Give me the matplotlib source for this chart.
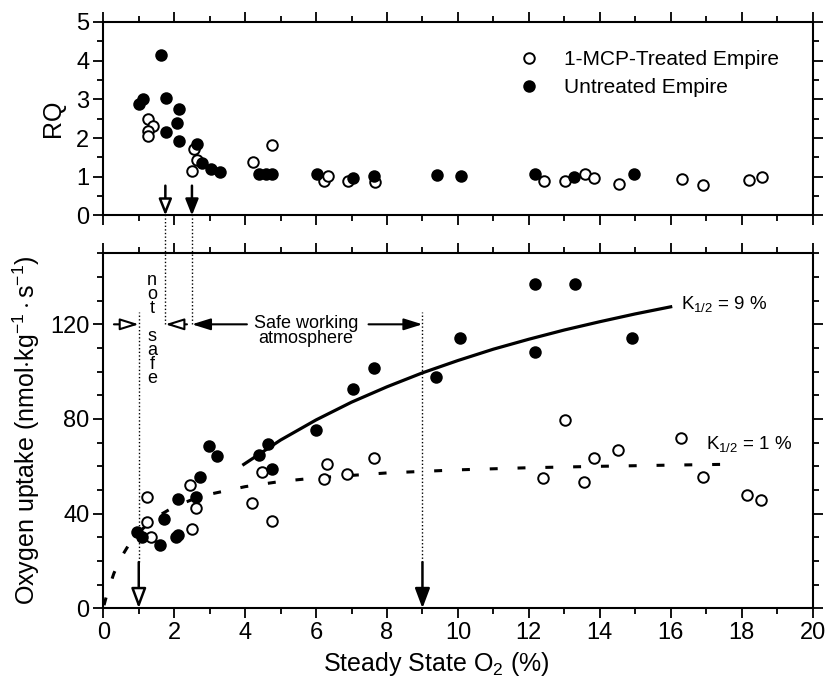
import matplotlib
matplotlib.use("Agg")
import matplotlib.pyplot as plt
from matplotlib.lines import Line2D
from matplotlib.ticker import MultipleLocator

plt.rcParams['font.family'] = ['Liberation Sans', 'DejaVu Sans']
plt.rcParams['mathtext.fontset'] = 'custom'
plt.rcParams['mathtext.rm'] = 'Liberation Sans'
plt.rcParams['mathtext.it'] = 'Liberation Sans:italic'
plt.rcParams['mathtext.bf'] = 'Liberation Sans:bold'

# ---------------- data ----------------
# RQ, untreated (filled)
rq_untreated_x = [1.00, 1.12, 1.64, 1.78, 1.78, 2.07, 2.14, 2.14, 2.64, 2.78, 3.04, 3.30,
                  4.40, 4.58, 4.76, 6.03, 7.03, 7.62, 9.41, 10.09, 12.16, 13.27, 14.96]
rq_untreated_y = [2.89, 3.00, 4.14, 3.03, 2.15, 2.39, 2.74, 1.93, 1.85, 1.35, 1.20, 1.13,
                  1.07, 1.07, 1.07, 1.06, 0.97, 1.03, 1.05, 1.01, 1.07, 0.99, 1.06]
# RQ, 1-MCP treated (open)
rq_treated_x = [1.26, 1.40, 1.25, 1.25, 2.55, 2.64, 2.50, 4.21, 4.76, 6.21, 6.33, 6.90, 7.65,
                12.42, 13.03, 13.57, 13.85, 14.54, 16.31, 16.92, 18.20, 18.58]
rq_treated_y = [2.49, 2.32, 2.19, 2.06, 1.72, 1.42, 1.16, 1.37, 1.83, 0.90, 1.01, 0.89, 0.86,
                0.88, 0.90, 1.07, 0.97, 0.82, 0.94, 0.79, 0.92, 0.99]

# O2 uptake, untreated (filled)
up_untreated_x = [0.94, 1.08, 1.60, 1.72, 2.05, 2.12, 2.12, 2.61, 2.73, 2.99, 3.22, 4.38, 4.65,
                  4.76, 6.01, 7.03, 7.62, 9.37, 10.07, 12.16, 12.16, 13.29, 14.91]
up_untreated_y = [32.4, 30.3, 26.7, 37.6, 30.3, 30.8, 46.1, 47.2, 55.3, 68.6, 64.3, 64.8, 69.3,
                  58.8, 75.3, 92.7, 101.5, 97.7, 114.4, 137.2, 108.2, 137.2, 114.4]
# O2 uptake, 1-MCP treated (open)
up_treated_x = [1.22, 1.22, 1.34, 2.45, 2.61, 2.49, 4.19, 4.48, 4.76, 6.21, 6.31, 6.87, 7.62,
                12.40, 13.01, 13.55, 13.83, 14.52, 16.28, 16.92, 18.16, 18.55]
up_treated_y = [47.2, 36.6, 30.3, 52.1, 42.3, 33.4, 44.5, 57.8, 36.7, 54.6, 60.9, 56.7, 63.7,
                54.9, 79.4, 53.2, 63.3, 66.8, 71.8, 55.3, 48.0, 45.8]

# fitted curves
fit9_x = [3.96, 5, 6, 7, 8, 9, 10, 11, 12, 13, 14, 15, 16]
fit9_y = [60.8, 71.1, 79.6, 87.1, 93.6, 99.5, 104.7, 109.5, 113.7, 117.6, 121.1, 124.4, 127.4]
fit1_x = [0.02, 0.12, 0.3, 0.5, 0.75, 1, 1.5, 2, 2.5, 3, 4, 5, 6, 8, 10, 12, 14, 16, 17.85]
fit1_y = [1.3, 6.9, 14.8, 21.4, 27.6, 32.2, 38.6, 42.9, 45.9, 48.2, 51.4, 53.6, 55.1, 57.2,
          58.5, 59.4, 60.0, 60.5, 60.9]

x_ticks = [0, 2, 4, 6, 8, 10, 12, 14, 16, 18, 20]
rq_ticks = [0, 1, 2, 3, 4, 5]
up_ticks = [0, 40, 80, 120]

legend_labels = ['1-MCP-Treated Empire', 'Untreated Empire']

# ---------------- figure ----------------
fig = plt.figure(figsize=(8.27, 6.77), dpi=100)
ax1 = fig.add_axes([0.1249, 0.6817, 0.8576, 0.2861])
ax2 = fig.add_axes([0.1249, 0.1015, 0.8576, 0.5243])

ms = 7.6
mew = 1.4
tick_fs = 17
label_fs = 18

def style(ax):
    for s in ax.spines.values():
        s.set_linewidth(1.5)
    ax.tick_params(which='both', direction='out', top=True, right=True, width=1.3)
    ax.tick_params(which='major', length=7)
    ax.tick_params(which='minor', length=4)
    ax.tick_params(labelsize=tick_fs, pad=3)
    ax.xaxis.set_minor_locator(MultipleLocator(1))

# top panel
ax1.plot(rq_treated_x, rq_treated_y, 'o', ms=ms, mfc='white', mec='black', mew=mew, ls='none', zorder=3)
ax1.plot(rq_untreated_x, rq_untreated_y, 'o', ms=ms, mfc='black', mec='black', mew=mew, ls='none', zorder=4)
ax1.set_xlim(0, 20)
ax1.set_ylim(0, 5)
ax1.set_xticks(x_ticks)
ax1.set_yticks(rq_ticks)
ax1.yaxis.set_minor_locator(MultipleLocator(0.5))
style(ax1)
ax1.tick_params(labelbottom=False)
ax1.set_ylabel('RQ', fontsize=label_fs, labelpad=8)

handles = [Line2D([], [], marker='o', ls='none', ms=ms, mfc='white', mec='black', mew=mew),
           Line2D([], [], marker='o', ls='none', ms=ms, mfc='black', mec='black', mew=mew)]
ax1.legend(handles, legend_labels, loc='upper left', bbox_to_anchor=(0.585, 0.855),
           frameon=False, fontsize=15, handlelength=1.0, handletextpad=1.2,
           borderpad=0, borderaxespad=0, labelspacing=0.45)

# arrows in top panel
ax1.annotate('', xy=(1.75, 0), xytext=(1.75, 0.77),
             arrowprops=dict(arrowstyle='-|>,head_length=0.7,head_width=0.28', fc='white', ec='black',
                             lw=1.8, shrinkA=0, shrinkB=0, mutation_scale=14))
ax1.annotate('', xy=(2.5, 0), xytext=(2.5, 0.77),
             arrowprops=dict(arrowstyle='-|>,head_length=0.7,head_width=0.28', fc='black', ec='black',
                             lw=1.8, shrinkA=0, shrinkB=0, mutation_scale=14))

# bottom panel
ax2.plot(fit9_x, fit9_y, '-', color='black', lw=2.3, zorder=2)
ax2.plot(fit1_x, fit1_y, color='black', lw=2.2, dashes=(2.6, 6.5), zorder=2)
ax2.plot(up_treated_x, up_treated_y, 'o', ms=ms, mfc='white', mec='black', mew=mew, ls='none', zorder=3)
ax2.plot(up_untreated_x, up_untreated_y, 'o', ms=ms, mfc='black', mec='black', mew=mew, ls='none', zorder=4)
ax2.set_xlim(0, 20)
ax2.set_ylim(0, 150)
ax2.set_xticks(x_ticks)
ax2.set_yticks(up_ticks)
ax2.yaxis.set_minor_locator(MultipleLocator(10))
style(ax2)
ax2.set_xlabel(r'Steady State O$_2$ (%)', fontsize=label_fs, labelpad=4, x=0.47)
ax2.set_ylabel(r'Oxygen uptake (nmol$\cdot$kg$^{-1}\cdot$s$^{-1}$)', fontsize=label_fs, labelpad=6)

dot = dict(color='black', lw=1.0, ls=(0, (1, 1.6)), zorder=1)
# vertical dotted lines
ax2.plot([1, 1], [19.5, 125], **dot)
ax2.plot([9, 9], [19.5, 125], **dot)
ax2.plot([1.75, 1.75], [120, 166], clip_on=False, **dot)
ax2.plot([2.5, 2.5], [120, 166], clip_on=False, **dot)

# vertical arrows bottom
ax2.annotate('', xy=(1, 0), xytext=(1, 19.5),
             arrowprops=dict(arrowstyle='-|>,head_length=0.8,head_width=0.3', fc='white', ec='black',
                             lw=1.8, shrinkA=0, shrinkB=0, mutation_scale=15))
ax2.annotate('', xy=(9, 0), xytext=(9, 19.5),
             arrowprops=dict(arrowstyle='-|>,head_length=0.8,head_width=0.3', fc='black', ec='black',
                             lw=1.8, shrinkA=0, shrinkB=0, mutation_scale=15))

# horizontal arrows
hy = 120
harrow = dict(lw=1.5, shrinkA=0, shrinkB=0, mutation_scale=14)
ax2.annotate('', xy=(1.0, hy), xytext=(0.3, hy),
             arrowprops=dict(arrowstyle='-|>,head_length=0.8,head_width=0.25', fc='white', ec='black', **harrow))
ax2.annotate('', xy=(1.75, hy), xytext=(2.36, hy),
             arrowprops=dict(arrowstyle='-|>,head_length=0.8,head_width=0.25', fc='white', ec='black', **harrow))
ax2.annotate('', xy=(2.5, hy), xytext=(4.05, hy),
             arrowprops=dict(arrowstyle='-|>,head_length=0.8,head_width=0.25', fc='black', ec='black', **harrow))
ax2.annotate('', xy=(9.0, hy), xytext=(7.48, hy),
             arrowprops=dict(arrowstyle='-|>,head_length=0.8,head_width=0.25', fc='black', ec='black', **harrow))

ax2.text(5.72, 117.2, 'Safe working\natmosphere', fontsize=13, ha='center', va='center', linespacing=0.85)

# "not safe" stacked letters (one text)
ax2.text(1.37, 142.0, 'n\no\nt\n\ns\na\nf\ne', fontsize=13, ha='center', va='top',
         multialignment='center', linespacing=0.77)

ax2.text(16.28, 126.5, r'K$_{1/2}$ = 9 %', fontsize=13.5, ha='left', va='baseline')
ax2.text(17.0, 67.2, r'K$_{1/2}$ = 1 %', fontsize=13.5, ha='left', va='baseline')

fig.savefig('out.png', dpi=100)
